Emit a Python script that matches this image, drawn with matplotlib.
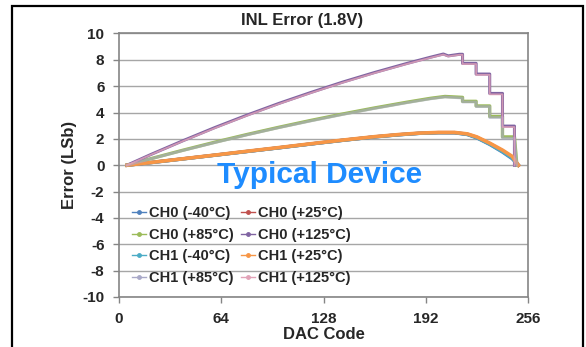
import matplotlib
matplotlib.use("Agg")
import matplotlib.pyplot as plt
from matplotlib.lines import Line2D
from matplotlib.patches import Rectangle

plt.rcParams['font.family'] = ['Liberation Sans', 'DejaVu Sans']
plt.rcParams['font.weight'] = 'bold'
plt.rcParams['axes.unicode_minus'] = False

# --- data (DAC code vs INL error in LSb) ---
codes_cold = [5, 20, 40, 60, 80, 100, 120, 140, 160, 175, 188, 200, 210, 218, 224,
              232, 240, 246, 250]
ch0_m40 = [0, 0.20, 0.48, 0.76, 1.04, 1.32, 1.61, 1.89, 2.15, 2.31, 2.42, 2.47, 2.46,
           2.33, 2.07, 1.58, 1.00, 0.50, 0.0]
ch0_p25 = [0, 0.21, 0.49, 0.77, 1.05, 1.33, 1.62, 1.90, 2.16, 2.32, 2.43, 2.48, 2.48,
           2.36, 2.12, 1.64, 1.10, 0.62, 0.0]
ch1_m40 = [0, 0.20, 0.48, 0.76, 1.04, 1.32, 1.61, 1.89, 2.15, 2.31, 2.42, 2.47, 2.47,
           2.34, 2.09, 1.60, 1.04, 0.55, 0.0]
ch1_p25 = [0, 0.21, 0.49, 0.77, 1.06, 1.34, 1.63, 1.91, 2.17, 2.33, 2.44, 2.49, 2.49,
           2.38, 2.15, 1.68, 1.15, 0.68, 0.0]

codes_85 = [5, 20, 40, 60, 80, 100, 120, 140, 160, 180, 195, 204, 215, 215, 223.5,
            223.5, 232, 232, 240, 240, 247.5, 249]
ch0_p85 = [0, 0.50, 1.14, 1.75, 2.33, 2.88, 3.40, 3.89, 4.35, 4.78, 5.08, 5.22, 5.15,
           4.85, 4.85, 4.50, 4.50, 3.70, 3.70, 2.15, 2.15, 0.0]
ch1_p85 = [0, 0.49, 1.12, 1.72, 2.30, 2.85, 3.36, 3.85, 4.31, 4.74, 5.04, 5.18, 5.10,
           4.80, 4.80, 4.45, 4.45, 3.62, 3.62, 2.05, 2.05, 0.0]

codes_125 = [5, 20, 40, 60, 80, 100, 120, 140, 160, 180, 195, 203, 206, 213, 215, 215,
             223.5, 223.5, 232, 232, 240, 240, 247.5, 247.5]
ch0_p125 = [0, 0.82, 1.86, 2.86, 3.80, 4.69, 5.52, 6.31, 7.04, 7.72, 8.20, 8.44, 8.30,
            8.42, 8.42, 7.73, 7.73, 6.92, 6.92, 5.45, 5.45, 2.97, 2.97, 0.0]
ch1_p125 = [0, 0.80, 1.83, 2.82, 3.76, 4.65, 5.48, 6.27, 7.00, 7.68, 8.16, 8.40, 8.26,
            8.38, 8.38, 7.68, 7.68, 6.86, 6.86, 5.38, 5.38, 2.90, 2.90, 0.0]

labels = ["CH0 (-40°C)", "CH0 (+25°C)", "CH0 (+85°C)", "CH0 (+125°C)",
          "CH1 (-40°C)", "CH1 (+25°C)", "CH1 (+85°C)", "CH1 (+125°C)"]
colors = ["#4F81BD", "#C0504D", "#9BBB59", "#8064A2",
          "#4BACC6", "#F79646", "#A9A9C8", "#E2A3B8"]

xticks = [0, 64, 128, 192, 256]
yticks = list(range(-10, 11, 2))

text_col = "#262626"

fig = plt.figure(figsize=(5.86, 3.47), dpi=100)
ax = fig.add_axes([0.2031, 0.1441, 0.698, 0.7594])

# (x, y, linewidth, alpha) in series order; later series sit on top
series = [
    (codes_cold, ch0_m40, 2.4, 1.0),
    (codes_cold, ch0_p25, 2.4, 1.0),
    (codes_85, ch0_p85, 2.4, 1.0),
    (codes_125, ch0_p125, 2.2, 1.0),
    (codes_cold, ch1_m40, 2.4, 1.0),
    (codes_cold, ch1_p25, 2.6, 1.0),
    (codes_85, ch1_p85, 2.0, 0.6),
    (codes_125, ch1_p125, 1.3, 0.8),
]
for (x, y, lw, a), c in zip(series, colors):
    ax.plot(x, y, color=c, lw=lw, alpha=a, solid_joinstyle='round')

ax.set_xlim(0, 256)
ax.set_ylim(-10, 10)
ax.set_xticks(xticks)
ax.set_yticks(yticks)
ax.grid(axis='y', color='#A6A6A6', lw=1)
ax.set_axisbelow(True)
for s in ax.spines.values():
    s.set_color('#858585')
    s.set_linewidth(1.2)
ax.tick_params(direction='out', length=4.5, width=1, color='#858585',
               labelsize=11, labelcolor=text_col)
ax.tick_params(axis='x', pad=6)
ax.tick_params(axis='y', pad=6)

ax.set_xlabel("DAC Code", fontsize=12, fontweight='bold', color=text_col, labelpad=1)
ax.set_ylabel("Error (LSb)", fontsize=12, fontweight='bold', color=text_col, labelpad=4)
fig.text(302 / 586, 1 - 21 / 347, "INL Error (1.8V)", ha='center', va='center',
         fontsize=12, fontweight='bold', color=text_col)

ax.text(125.6, -1.37, "Typical Device", ha='center', va='baseline',
        fontsize=21.5, fontweight='bold', color='#1E8CFF')

handles = [Line2D([], [], color=c, lw=1, marker='o', markersize=2.5) for c in colors]
order = [0, 2, 4, 6, 1, 3, 5, 7]
leg = ax.legend([handles[i] for i in order], [labels[i] for i in order],
                ncol=2, loc='upper left', bbox_to_anchor=(0.0, 0.395),
                frameon=False, handlelength=0.95, handletextpad=0.2,
                columnspacing=0.5, labelspacing=0.52,
                prop={'size': 10.5, 'weight': 'bold'})
for t in leg.get_texts():
    t.set_color(text_col)

# black frame round the chart (open at the bottom, as in the source)
fig.add_artist(Rectangle((12 / 586, -0.1), (583 - 12) / 586, 1.1 - 6 / 347,
                         transform=fig.transFigure, fill=False,
                         edgecolor='black', lw=1.6, clip_on=False))

fig.savefig("out.png", dpi=100)
